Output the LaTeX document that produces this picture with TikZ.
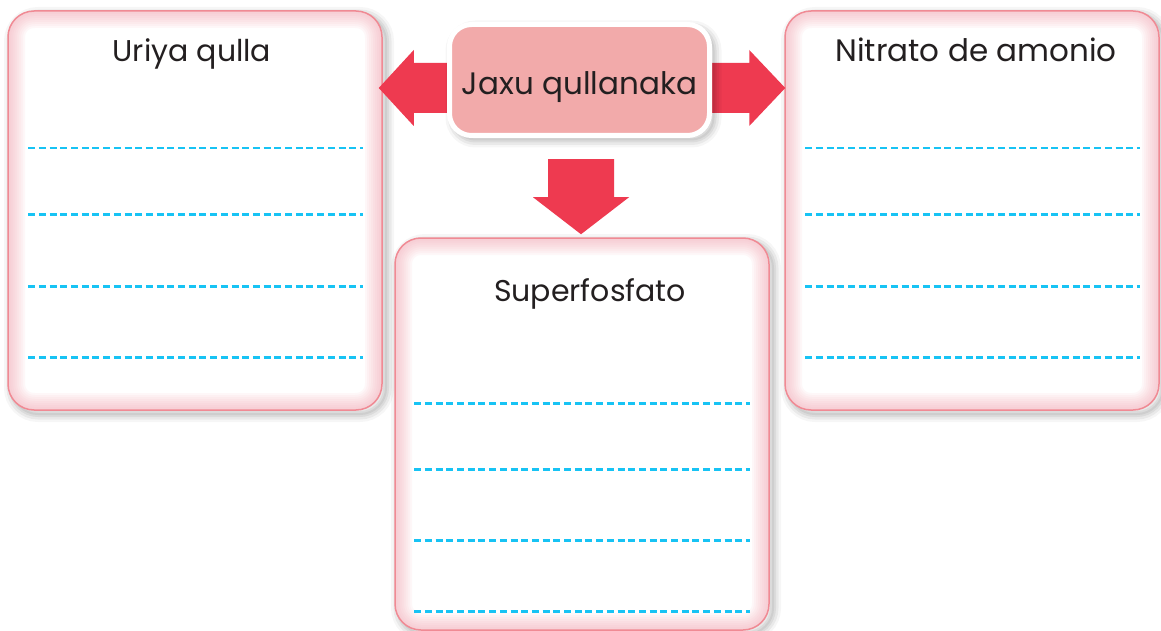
\documentclass[tikz,border=0pt]{standalone}
\usepackage{fontspec}
\setmainfont{Poppins}
\usetikzlibrary{calc}
\definecolor{boxline}{HTML}{F08A94}
\definecolor{glow}{HTML}{F2A0AE}
\definecolor{arrowred}{HTML}{EE3A50}
\definecolor{centerfill}{HTML}{F2AAAA}
\definecolor{dashblue}{HTML}{17C3F4}
\definecolor{ink}{HTML}{231F20}
\pgfdeclarelayer{bgpaper}
\pgfdeclarelayer{boxes}
\pgfdeclarelayer{arrows}
\pgfsetlayers{bgpaper,boxes,arrows,main}
\tikzset{
  softshadow/.style={
    preaction={draw=black, draw opacity=0.035, line width=16pt, transform canvas={shift={(4pt,-4pt)}}},
    preaction={draw=black, draw opacity=0.05, line width=11pt, transform canvas={shift={(4pt,-4pt)}}},
    preaction={draw=black, draw opacity=0.06, line width=6pt, transform canvas={shift={(4pt,-4pt)}}},
    preaction={draw=black, draw opacity=0.06, line width=2pt, transform canvas={shift={(4pt,-4pt)}}}},
  answerbox/.style={rectangle, rounded corners=26pt, minimum width=374pt,
    softshadow, fill=white, draw=boxline, line width=1.5pt,
    path picture={
      \foreach \w in {34,30,...,2} {
        \draw[glow, opacity=0.075, line width=\w pt, rounded corners=26pt]
          (path picture bounding box.south west) rectangle (path picture bounding box.north east);
      }
    }},
  centerbox/.style={rectangle, rounded corners=22pt, minimum width=260pt, minimum height=111pt,
    softshadow, fill=centerfill, draw=white, line width=5pt,
    font=\fontsize{31}{36}\selectfont, text=ink, text height=30pt, text depth=0pt},
  boxtitle/.style={anchor=base, font=\fontsize{30}{36}\selectfont, text=ink, inner sep=0pt},
  dashline/.style={draw=dashblue, line width=2.5pt, dash pattern=on 7pt off 3.7pt},
  bigarrow/.style={fill=arrowred}
}
\begin{document}
\begin{tikzpicture}[x=1pt,y=-1pt]
\useasboundingbox (0,0) rectangle (1161,631);
\begin{pgfonlayer}{bgpaper}
  \fill[white] (0,0) rectangle (1161,631);
\end{pgfonlayer}

\begin{pgfonlayer}{boxes}
  \node[answerbox, minimum height=399pt] (L) at (195,210.5) {};
  \node[answerbox, minimum height=399pt] (R) at (972,210.5) {};
  \node[answerbox, minimum height=392pt] (M) at (582,434) {};
  \foreach \d in {138,204,276,347} {
    \draw[dashline] ($(L.north west)+(21,\d)$) -- ($(L.north east)+(-20,\d)$);
    \draw[dashline] ($(R.north west)+(21,\d)$) -- ($(R.north east)+(-20,\d)$);
  }
  \foreach \d in {166,232,303,374} {
    \draw[dashline] ($(M.north west)+(20,\d)$) -- ($(M.north east)+(-20,\d)$);
  }
  \node[boxtitle] (Lt) at (192,62) {Uriya qulla};
  \node[boxtitle, font=\fontsize{31}{36}\selectfont] (Rt) at (976,62) {Nitrato de amonio};
  \node[boxtitle] (Mt) at (590,301) {Superfosfato};
\end{pgfonlayer}

\node[centerbox] (C) at (579.5,80) {Jaxu qullanaka};

\begin{pgfonlayer}{arrows}
  \coordinate (la) at ($(L.east |- C.center)+(-4,8)$);
  \coordinate (ra) at ($(R.west |- C.center)+(1,8)$);
  \coordinate (da) at ($(M.north)+(-1,-3)$);
  \fill[bigarrow] (la) -- ++(35,-38) -- ++(0,13) -- ++(60,0) -- ++(0,50) -- ++(-60,0) -- ++(0,13) -- cycle;
  \fill[bigarrow] (ra) -- ++(-36,-38) -- ++(0,13) -- ++(-60,0) -- ++(0,50) -- ++(60,0) -- ++(0,13) -- cycle;
  \fill[bigarrow] (da) -- ++(-48,-37) -- ++(15,0) -- ++(0,-38) -- ++(66,0) -- ++(0,38) -- ++(15,0) -- cycle;
\end{pgfonlayer}
\end{tikzpicture}
\end{document}
